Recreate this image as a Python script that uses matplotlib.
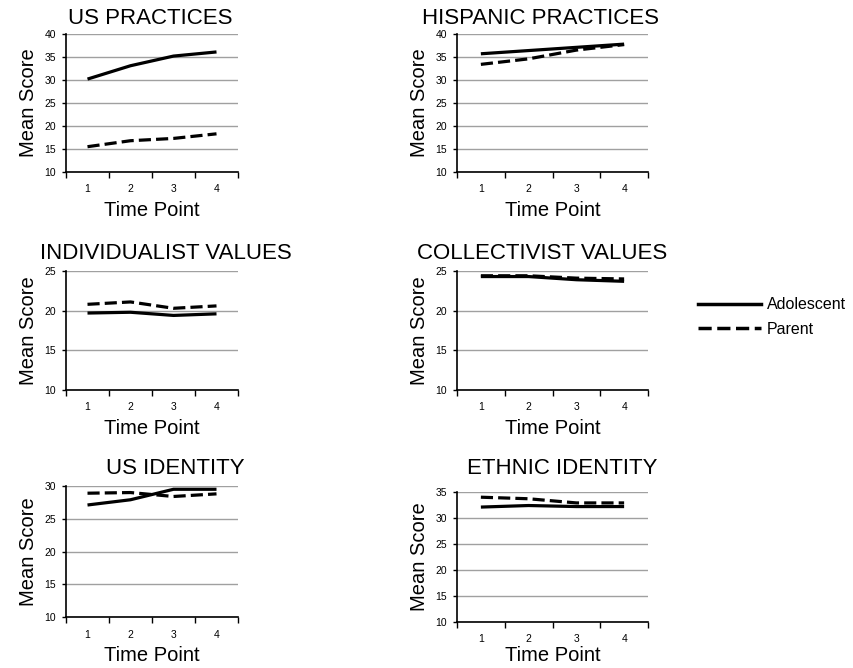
import matplotlib
matplotlib.use("Agg")
import matplotlib.pyplot as plt
from matplotlib.lines import Line2D

plt.rcParams['font.family'] = ['Liberation Sans', 'DejaVu Sans']

time_points = [1, 2, 3, 4]

titles = ["US PRACTICES", "HISPANIC PRACTICES",
          "INDIVIDUALIST VALUES", "COLLECTIVIST VALUES",
          "US IDENTITY", "ETHNIC IDENTITY"]

adolescent = [
    [30.2, 33.1, 35.2, 36.1],
    [35.7, 36.4, 37.1, 37.8],
    [19.7, 19.8, 19.4, 19.6],
    [24.3, 24.3, 23.9, 23.7],
    [27.1, 27.9, 29.5, 29.5],
    [32.1, 32.4, 32.2, 32.2],
]
parent = [
    [15.5, 16.8, 17.3, 18.3],
    [33.4, 34.6, 36.5, 37.7],
    [20.8, 21.1, 20.3, 20.6],
    [24.4, 24.4, 24.1, 24.0],
    [28.9, 29.0, 28.4, 28.8],
    [34.0, 33.7, 32.9, 32.9],
]
y_tops = [40, 40, 25, 25, 30, 35]
y_steps = [5, 5, 5, 5, 5, 5]

W, H = 854, 668
fig = plt.figure(figsize=(W / 100, H / 100), dpi=100)

# pixel boxes: (left, top, right, bottom)
boxes = [
    (66, 34, 238, 172), (457, 34, 648, 172),
    (66, 271, 238, 390), (457, 271, 648, 390),
    (66, 486, 238, 617), (457, 492, 648, 622),
]
title_pos = [(150, 18), (541, 18), (166, 254), (542, 254), (175, 468), (562, 468)]
xlabel_pad = [5, 5, 5, 5, 5, 1]

dash = (0, (3.8, 1.6))
for i in range(6):
    l, t, r, b = boxes[i]
    ax = fig.add_axes([l / W, 1 - b / H, (r - l) / W, (b - t) / H])
    ax.plot(time_points, adolescent[i], color='black', lw=2.3, solid_capstyle='butt')
    ax.plot(time_points, parent[i], color='black', lw=2.3, linestyle=dash)
    ax.set_xlim(0.5, 4.5)
    ax.set_ylim(10, y_tops[i])
    ax.set_yticks(range(10, y_tops[i] + 1, y_steps[i]))
    ax.set_xticks(time_points)
    ax.set_xticks([0.5, 1.5, 2.5, 3.5, 4.5], minor=True)
    ax.tick_params(axis='x', which='major', length=0, pad=9, labelsize=7.5)
    ax.tick_params(axis='x', which='minor', length=4, width=1, direction='out')
    ax.tick_params(axis='y', length=3, width=1, pad=4, labelsize=7.5)
    ax.grid(axis='y', color='#a0a0a0', lw=1)
    ax.set_axisbelow(True)
    for s in ['top', 'right']:
        ax.spines[s].set_visible(False)
    for s in ['left', 'bottom']:
        ax.spines[s].set_linewidth(1.2)
    ax.set_xlabel("Time Point", fontsize=14.5, labelpad=xlabel_pad[i])
    ax.set_ylabel("Mean Score", fontsize=14.5, labelpad=5)
    tx, ty = title_pos[i]
    fig.text(tx / W, 1 - ty / H, titles[i], fontsize=16, ha='center', va='center')

handles = [Line2D([], [], color='black', lw=2.5),
           Line2D([], [], color='black', lw=2.5, linestyle=dash)]
fig.legend(handles, ["Adolescent", "Parent"], loc='center left',
           bbox_to_anchor=(684 / W, 1 - 317 / H), frameon=False, fontsize=11.5,
           handlelength=3.9, handletextpad=0.4, labelspacing=0.6)

fig.savefig("out.png", dpi=100)
